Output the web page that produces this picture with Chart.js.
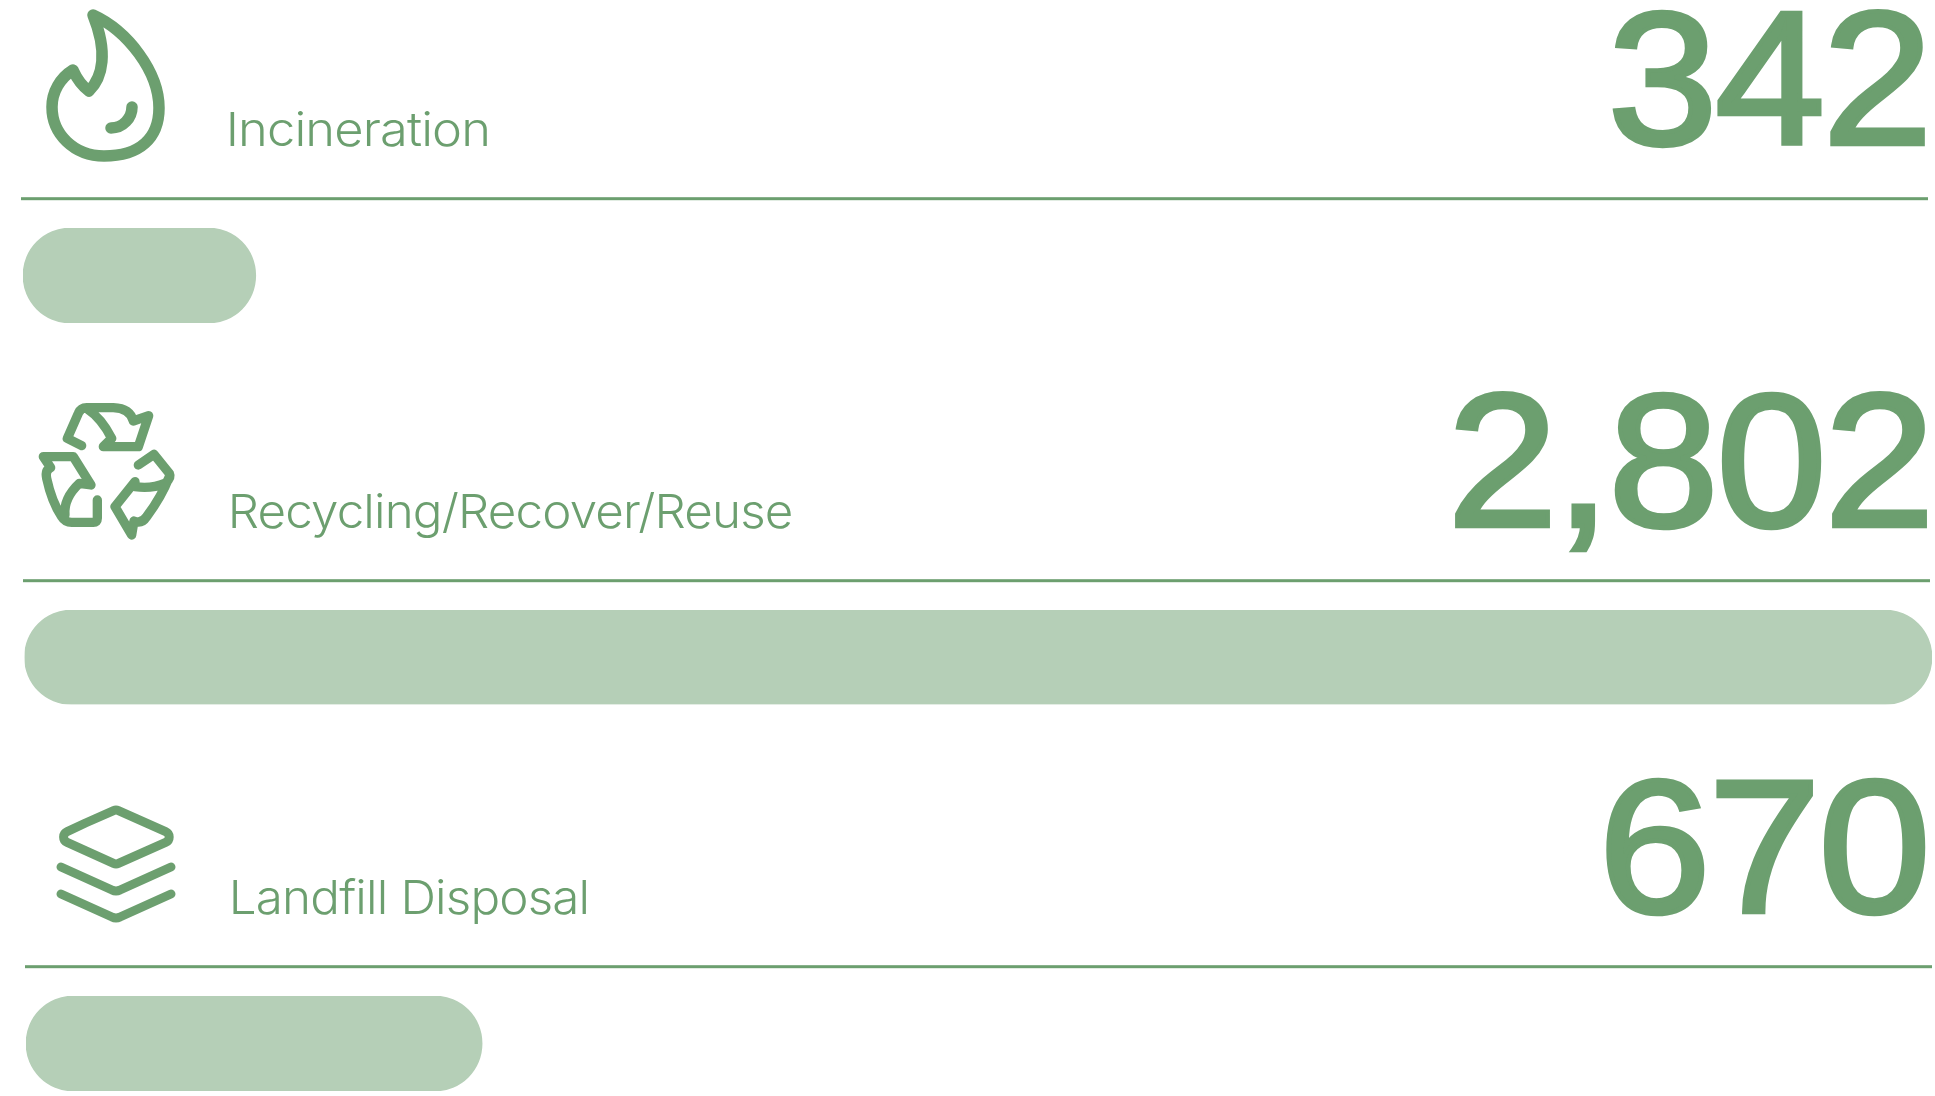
<!DOCTYPE html>
<html>
<head>
<meta charset="utf-8">
<title>Waste treatment</title>
<script src="https://cdn.jsdelivr.net/npm/chart.js@4"></script>
<style>
html,body{margin:0;padding:0;background:#fff;width:1935px;height:1096px;overflow:hidden}
canvas{position:absolute;left:0;top:0}
</style>
</head>
<body>
<canvas id="row0" width="1935" height="1096"></canvas>
<canvas id="row1" width="1935" height="1096"></canvas>
<canvas id="row2" width="1935" height="1096"></canvas>
<script>
const categories = ["Incineration", "Recycling/Recover/Reuse", "Landfill Disposal"];
const values = [342, 2802, 670];
const valueLabels = ["342", "2,802", "670"];
const axisMax = 2802;

const DARK = "#6c9f6f";
const LIGHT = "#b5cfb7";

// layout of each row, in page pixels
const barBoxes = [
  {left: 23, right: 1930, top: 228, bottom: 323},
  {left: 24.5, right: 1932, top: 610, bottom: 704.5},
  {left: 26, right: 1933.5, top: 996, bottom: 1091}
];
const rules = [
  {x0: 21, x1: 1928, y: 198.7},
  {x0: 23, x1: 1930, y: 580.7},
  {x0: 25, x1: 1932, y: 966.7}
];
const labelBoxes = [
  {left: 230, right: 487, base: 145.7},
  {left: 232, right: 791, base: 527.7},
  {left: 233, right: 587, base: 914}
];
const valueBoxes = [
  {left: 1615, right: 1923, base: 144},
  {left: 1457, right: 1925, base: 526},
  {left: 1608, right: 1923, base: 912}
];

// draws text so its ink spans box.left..box.right by stretching it sideways
function fitText(ctx, text, box, font, tracking, grow) {
  ctx.save();
  ctx.font = font;
  ctx.fillStyle = DARK;
  ctx.strokeStyle = DARK;
  ctx.textAlign = "left";
  ctx.textBaseline = "alphabetic";
  ctx.letterSpacing = tracking + "px";
  const m = ctx.measureText(text);
  const ink = m.actualBoundingBoxRight + m.actualBoundingBoxLeft;
  const sx = (box.right - box.left) / ink;
  ctx.translate(box.left + m.actualBoundingBoxLeft * sx, box.base);
  ctx.scale(sx, 1);
  ctx.fillText(text, 0, 0);
  if (grow) {
    ctx.lineWidth = grow;
    ctx.lineJoin = "miter";
    ctx.strokeText(text, 0, 0);
  }
  ctx.restore();
}

const iconPainters = [
  function flame(ctx) {
    ctx.lineWidth = 11.5;
    ctx.beginPath();
    ctx.moveTo(93, 15);
    ctx.bezierCurveTo(128, 31, 159, 72, 159, 108);
    ctx.bezierCurveTo(159, 138, 140, 156, 104, 156);
    ctx.bezierCurveTo(74, 156, 52, 134, 52, 107);
    ctx.bezierCurveTo(52, 92, 60, 78, 73, 70);
    ctx.bezierCurveTo(77, 79, 82, 86, 89, 91);
    ctx.bezierCurveTo(103, 77, 108, 52, 93, 15);
    ctx.closePath();
    ctx.stroke();
    ctx.beginPath();
    ctx.moveTo(132, 107);
    ctx.bezierCurveTo(132, 118, 123, 128, 111, 128);
    ctx.stroke();
  },
  function recycle(ctx) {
    ctx.translate(30, 395);
    ctx.scale(1 / 3, 1 / 3);
    ctx.lineWidth = 28;
    // top arrow
    ctx.beginPath();
    ctx.moveTo(155, 152);
    ctx.lineTo(112, 130);
    ctx.lineTo(145, 55);
    ctx.quadraticCurveTo(152, 38, 170, 38);
    ctx.lineTo(250, 38);
    ctx.quadraticCurveTo(300, 40, 310, 78);
    ctx.lineTo(356, 62);
    ctx.lineTo(325, 155);
    ctx.lineTo(220, 155);
    ctx.lineTo(245, 130);
    ctx.quadraticCurveTo(215, 70, 170, 40);
    ctx.stroke();
    // left arrow
    ctx.beginPath();
    ctx.moveTo(40, 185);
    ctx.lineTo(130, 185);
    ctx.lineTo(183, 270);
    ctx.lineTo(148, 265);
    ctx.quadraticCurveTo(100, 310, 105, 360);
    ctx.moveTo(40, 185);
    ctx.lineTo(62, 218);
    ctx.quadraticCurveTo(45, 225, 50, 250);
    ctx.quadraticCurveTo(65, 320, 95, 365);
    ctx.quadraticCurveTo(105, 382, 125, 382);
    ctx.lineTo(190, 382);
    ctx.quadraticCurveTo(202, 382, 202, 370);
    ctx.lineTo(202, 315);
    ctx.stroke();
    // right arrow
    ctx.beginPath();
    ctx.moveTo(325, 210);
    ctx.lineTo(372, 178);
    ctx.lineTo(418, 235);
    ctx.quadraticCurveTo(425, 250, 405, 265);
    ctx.quadraticCurveTo(365, 282, 315, 275);
    ctx.lineTo(315, 260);
    ctx.lineTo(255, 335);
    ctx.lineTo(305, 420);
    ctx.lineTo(312, 378);
    ctx.quadraticCurveTo(335, 388, 350, 365);
    ctx.quadraticCurveTo(395, 305, 418, 245);
    ctx.stroke();
  },
  function layers(ctx) {
    ctx.lineWidth = 9;
    ctx.beginPath();
    const pts = [[116, 809.5], [178, 837], [116, 864.5], [55, 837]];
    ctx.moveTo(85.5, 823);
    for (let i = 0; i < 4; i++) {
      const a = pts[i], b = pts[(i + 1) % 4];
      ctx.arcTo(a[0], a[1], b[0], b[1], 6);
    }
    ctx.closePath();
    ctx.stroke();
    [[867, 891], [894, 918]].forEach(([y0, y1]) => {
      ctx.beginPath();
      ctx.moveTo(61, y0);
      ctx.lineTo(112, y1 - 1);
      ctx.quadraticCurveTo(116, y1 + 1, 120, y1 - 1);
      ctx.lineTo(171, y0);
      ctx.stroke();
    });
  }
];

const rowDecor = {
  id: "rowDecor",
  afterDraw(chart, args, opts) {
    const i = opts.row;
    const ctx = chart.ctx;
    ctx.save();
    ctx.fillStyle = DARK;
    const r = rules[i];
    ctx.fillRect(r.x0, r.y - 1.5, r.x1 - r.x0, 3);
    fitText(ctx, categories[i], labelBoxes[i], "300 47px Inter", -0.8, 0);
    fitText(ctx, valueLabels[i], valueBoxes[i], "189px 'Liberation Sans'", -2, 4.5);
    ctx.strokeStyle = DARK;
    ctx.lineCap = "round";
    ctx.lineJoin = "round";
    iconPainters[i](ctx);
    ctx.restore();
  }
};

categories.forEach((name, i) => {
  const b = barBoxes[i];
  new Chart(document.getElementById("row" + i), {
    type: "bar",
    plugins: [rowDecor],
    data: {
      labels: [name],
      datasets: [{
        data: [values[i]],
        backgroundColor: LIGHT,
        borderWidth: 0,
        borderSkipped: false,
        borderRadius: 47.5,
        categoryPercentage: 1,
        barPercentage: 1
      }]
    },
    options: {
      indexAxis: "y",
      responsive: false,
      animation: false,
      layout: {padding: {left: b.left, right: 1935 - b.right, top: b.top, bottom: 1096 - b.bottom}},
      scales: {
        x: {display: false, min: 0, max: axisMax, grid: {display: false}},
        y: {display: false, grid: {display: false}}
      },
      plugins: {legend: {display: false}, tooltip: {enabled: false}, title: {display: false}, rowDecor: {row: i}}
    }
  });
});
</script>
</body>
</html>
